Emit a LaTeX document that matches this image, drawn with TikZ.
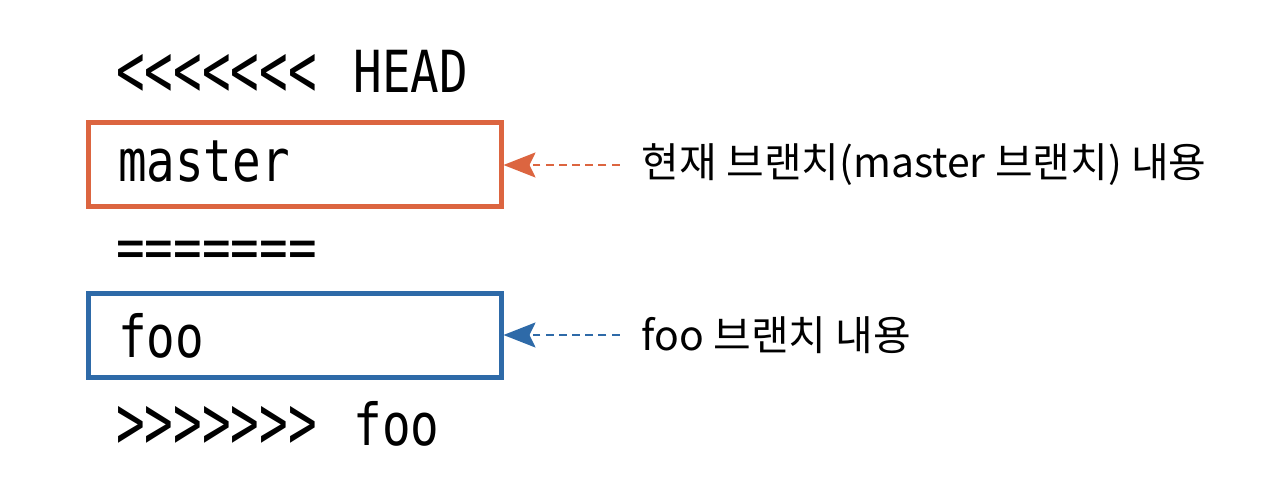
\documentclass[tikz,border=0pt]{standalone}
\usepackage{fontspec}
\newfontfamily\codefont{DejaVu Sans Mono}[FakeStretch=0.82,Ligatures=TeXOff]
\newfontfamily\kofont{Noto Sans CJK KR}
\usetikzlibrary{arrows.meta,positioning}
\definecolor{mastercolor}{HTML}{DC6540}
\definecolor{foocolor}{HTML}{2E6AA8}
\newcommand{\chevrons}[1]{\raisebox{-0.07cm}{\scalebox{1}[1.3]{#1}}}
\begin{document}
\begin{tikzpicture}[
  code/.style={anchor=base west,inner sep=0pt,font=\codefont\fontsize{33}{38}\selectfont},
  branchbox/.style={draw=#1,line width=0.1cm,minimum width=8.26cm,minimum height=1.68cm,
    text width=7.06cm,align=left,inner xsep=0.6cm,text depth=0pt,
    font=\codefont\fontsize{33}{38}\selectfont},
  note/.style={anchor=west,inner sep=0pt,font=\kofont\fontsize{23.3}{28}\selectfont},
  pointer/.style={draw=#1,line width=1.2pt,dash pattern=on 4.5pt off 3pt,shorten <=0.44cm,
    -{Stealth[length=0.64cm,width=0.5cm,inset=0.12cm,fill=#1]}}]
\useasboundingbox (0,0) rectangle (25.6,10.04);

\node [code] (head) at (2.32,8.18) {\chevrons{<<<<<<<}\hspace{0.16cm} HEAD};
\node [branchbox=mastercolor,text height=0.68cm] (masterbox) at (5.89,6.74) {master};
\node [code] (sep) at (2.32,4.68) {=======};
\node [branchbox=foocolor,text height=0.88cm] (foobox) at (5.89,3.34) {foo};
\node [code] (tail) at (2.32,1.14) {\chevrons{>>>>>>>}\hspace{0.16cm} foo};

\node [note,right=2.76cm of masterbox] (masternote) {현재 브랜치(master 브랜치) 내용};
\node [note,right=2.76cm of foobox] (foonote) {foo 브랜치 내용};

\draw [pointer=mastercolor] (masternote.west) -- (masternote.west -| masterbox.east);
\draw [pointer=foocolor] (foonote.west) -- (foonote.west -| foobox.east);
\end{tikzpicture}
\end{document}
